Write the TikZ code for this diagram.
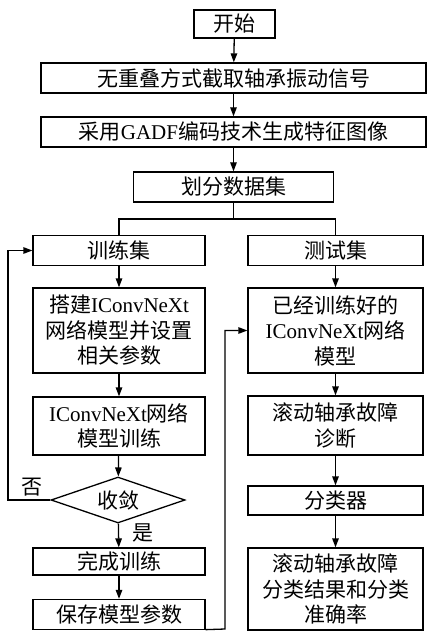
\documentclass[tikz,border=0pt]{standalone}
\usepackage{fontspec}
\setmainfont{Liberation Serif}
\newfontfamily\cjk{Noto Sans CJK SC}
\usetikzlibrary{arrows.meta,shapes.geometric}
\newcommand\zh[1]{{\cjk #1}}
\begin{document}
\begin{tikzpicture}[x=1pt,y=-1pt,line width=1.3pt,
  txt/.style={font=\fontsize{21}{25.5}\selectfont},
  box/.style={draw,rectangle,inner sep=0pt,align=center,txt},
  arr/.style={-{Triangle[length=9pt,width=6.5pt]}}]
\useasboundingbox (0,0) rectangle (427,631);
% top column
\node[box,minimum width=81,minimum height=28] (start) at (234.5,24) {\zh{开始}};
\node[box,minimum width=385,minimum height=30] (b2) at (233.5,78) {\zh{无重叠方式截取轴承振动信号}};
\node[box,minimum width=385,minimum height=30] (b3) at (233.5,132) {\zh{采用}GADF\zh{编码技术生成特征图像}};
\node[box,minimum width=200,minimum height=30] (b4) at (233.5,187) {\zh{划分数据集}};
% left column
\node[box,minimum width=172,minimum height=30] (train) at (119,250.5) {\zh{训练集}};
\node[box,minimum width=172,minimum height=85] (build) at (119,330.5) {\zh{搭建}IConvNeXt\\\zh{网络模型并设置}\\\zh{相关参数}};
\node[box,minimum width=172,minimum height=58] (tm) at (119,426) {IConvNeXt\zh{网络}\\\zh{模型训练}};
\node[draw,diamond,aspect=3,inner sep=0pt,minimum width=134,minimum height=46,txt] (conv) at (118,500) {\zh{收敛}};
\node[box,minimum width=172,minimum height=27] (done) at (119,561.5) {\zh{完成训练}};
\node[box,minimum width=172,minimum height=30] (save) at (119,614.5) {\zh{保存模型参数}};
% right column
\node[box,minimum width=175,minimum height=30] (test) at (335.5,250.5) {\zh{测试集}};
\node[box,minimum width=175,minimum height=85] (trained) at (335.5,330.5) {\zh{已经训练好的}\\IConvNeXt\zh{网络}\\\zh{模型}};
\node[box,minimum width=175,minimum height=59] (diag) at (335.5,425.5) {\zh{滚动轴承故障}\\\zh{诊断}};
\node[box,minimum width=175,minimum height=29] (cls) at (335.5,500.5) {\zh{分类器}};
\node[box,minimum width=175,minimum height=82] (res) at (335.5,589) {\zh{滚动轴承故障}\\\zh{分类结果和分类}\\\zh{准确率}};
% labels
\node[txt,inner sep=0pt] (no) at (32,487) {\zh{否}};
\node[txt,inner sep=0pt] (yes) at (143,533) {\zh{是}};
% connectors
\draw[arr] (start) -- (b2);
\draw[arr] (b2) -- (b3);
\draw[arr] (b3) -- (b4);
\coordinate (split) at (233.5,219);
\draw (b4.south) -- (split);
\draw (train.north) |- (split) -| (test.north);
\draw[arr] (train) -- (build);
\draw[arr] (build) -- (tm);
\draw[arr] (tm) -- (conv);
\draw[arr] (conv) -- (done);
\draw[arr] (done) -- (save);
\draw[arr] (test) -- (trained);
\draw[arr] (trained) -- (diag);
\draw[arr] (diag) -- (cls);
\draw[arr] (cls) -- (res);
\coordinate (fb) at (8,500);
\draw[arr] (conv.west) -- (fb) |- (train.west);
\coordinate (sv) at (225,629);
\draw[arr] (save.south east) ++(0,-0.5) -- (sv) |- (trained.west);
\end{tikzpicture}
\end{document}
